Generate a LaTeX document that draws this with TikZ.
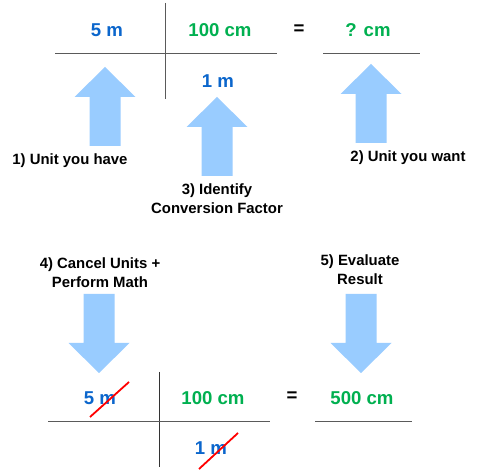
\documentclass[tikz,border=0pt]{standalone}
\usepackage{fontspec}
\setmainfont{Liberation Sans}
\definecolor{valblue}{HTML}{0B66CC}
\definecolor{valgreen}{HTML}{00B050}
\definecolor{arrowfill}{HTML}{99CCFF}
\definecolor{rulegray}{HTML}{5A5A5A}
\begin{document}
\begin{tikzpicture}[x=1pt,y=-1pt,
  val/.style={font=\bfseries\fontsize{18.6}{20}\selectfont,inner sep=0pt,anchor=center},
  bluev/.style={val,text=valblue},
  greenv/.style={val,text=valgreen},
  lbl/.style={font=\bfseries\fontsize{14.9}{18.5}\selectfont,align=center,inner sep=0pt,text=black},
  rule/.style={draw=rulegray,line width=1pt},
  cancel/.style={draw=red,line width=1.8pt},
  uparrow/.pic={\fill[arrowfill] (0,0) -- (30.5,30) -- (15.5,30) -- (15.5,79) -- (-15.5,79) -- (-15.5,30) -- (-30.5,30) -- cycle;},
  downarrow/.pic={\fill[arrowfill] (0,0) -- (30.5,-30) -- (15.5,-30) -- (15.5,-79) -- (-15.5,-79) -- (-15.5,-30) -- (-30.5,-30) -- cycle;}
]
\useasboundingbox[fill=white] (0,0) rectangle (480,473);

% ---- top equation ----
\coordinate (tv1) at (165.5,3);
\coordinate (tv2) at (165.5,99);
\coordinate (th1) at (55,54);
\coordinate (th2) at (277,54);
\coordinate (tr1) at (323,54);
\coordinate (tr2) at (420,54);
\draw[rule] (tv1) -- (tv2);
\draw[rule] (th1) -- (th2);
\draw[rule] (tr1) -- (tr2);
\node[bluev] (t5m) at (107,30) {5 m};
\node[greenv] (t100) at (220,30) {100 cm};
\node[val] (teq) at (299,30) {=};
\node[greenv] (tq) at (368,30) {? cm};
\node[bluev] (t1m) at (218,81) {1 m};

% ---- up arrows ----
\pic at (105,67) {uparrow};
\pic at (217,97) {uparrow};
\pic at (371,64) {uparrow};

\node[lbl] (l1) at (70,161) {1) Unit you have};
\node[lbl] (l2) at (408,158) {2) Unit you want};
\node[lbl] (l3) at (217,198.5) {3) Identify\\Conversion Factor};

% ---- down arrows ----
\node[lbl] (l4) at (100,272.5) {4) Cancel Units +\\Perform Math};
\node[lbl] (l5) at (360,269.5) {5) Evaluate\\Result};
\pic at (99,373) {downarrow};
\pic at (361,373) {downarrow};

% ---- bottom equation ----
\coordinate (bv1) at (159,372);
\coordinate (bv2) at (159,467);
\coordinate (bh1) at (48,422);
\coordinate (bh2) at (270,422);
\coordinate (br1) at (315,422);
\coordinate (br2) at (412,422);
\draw[rule,draw=black!80] (bv1) -- (bv2);
\draw[rule] (bh1) -- (bh2);
\draw[rule] (br1) -- (br2);
\node[bluev] (b5m) at (100,398) {5 m};
\node[greenv] (b100) at (213,398) {100 cm};
\node[val] (beq) at (292,397) {=};
\node[greenv] (b500) at (362,398) {500 cm};
\node[bluev] (b1m) at (211,448) {1 m};
\coordinate (c1a) at (90,417);
\coordinate (c1b) at (129,382);
\coordinate (c2a) at (199,469);
\coordinate (c2b) at (238,433);
\draw[cancel] (c1a) -- (c1b);
\draw[cancel] (c2a) -- (c2b);
\end{tikzpicture}
\end{document}
